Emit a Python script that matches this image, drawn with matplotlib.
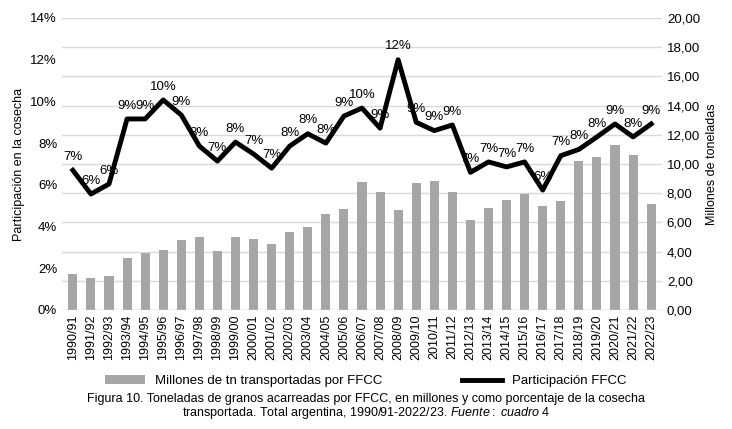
import matplotlib
matplotlib.use("Agg")
import matplotlib.pyplot as plt
from matplotlib.ticker import FuncFormatter

plt.rcParams['font.family'] = ['Liberation Sans', 'DejaVu Sans']
plt.rcParams['mathtext.fontset'] = 'custom'
plt.rcParams['mathtext.it'] = 'Liberation Sans:italic'
plt.rcParams['mathtext.rm'] = 'Liberation Sans'

years = ["1990/91","1991/92","1992/93","1993/94","1994/95","1995/96","1996/97","1997/98","1998/99","1999/00",
         "2000/01","2001/02","2002/03","2003/04","2004/05","2005/06","2006/07","2007/08","2008/09","2009/10",
         "2010/11","2011/12","2012/13","2013/14","2014/15","2015/16","2016/17","2017/18","2018/19","2019/20",
         "2020/21","2021/22","2022/23"]
tons = [2.47,2.2,2.33,3.56,3.9,4.1,4.8,5.0,4.04,5.0,4.86,4.5,5.34,5.7,6.6,6.9,8.77,8.1,6.85,8.7,
        8.84,8.1,6.16,7.0,7.53,7.95,7.1,7.47,10.2,10.5,11.3,10.6,7.26]
share = [6.7,5.56,6.04,9.16,9.16,10.07,9.35,7.86,7.14,8.05,7.48,6.8,7.86,8.45,8.0,9.3,9.68,8.72,12.0,9.0,
         8.6,8.87,6.6,7.1,6.86,7.1,5.75,7.4,7.7,8.3,8.92,8.3,8.92]
share_labels = ["7%","6%","6%","9%","9%","10%","9%","8%","7%","8%","7%","7%","8%","8%","8%","9%","10%","9%",
                "12%","9%","9%","9%","7%","7%","7%","7%","6%","7%","8%","8%","9%","8%","9%"]

fig = plt.figure(figsize=(7.32, 4.29), dpi=100)
ax = fig.add_axes([62/732, 1-310/429, 600/732, 292/429])
ax2 = ax.twinx()
x = list(range(len(years)))

ax2.bar(x, tons, width=0.5, color='#a6a6a6', label='Millones de tn transportadas por FFCC', zorder=2)
ax2.set_ylim(0, 20)
ax2.set_yticks(range(0, 21, 2))
ax2.yaxis.set_major_formatter(FuncFormatter(lambda v, p: f"{v:.2f}".replace('.', ',')))
ax2.set_ylabel('Millones de toneladas', fontsize=9)

ax.set_zorder(ax2.get_zorder()+1)
ax.patch.set_visible(False)
ax.plot(x, share, color='black', lw=3.5, label='Participación FFCC', zorder=3)
for xi, v, lab in zip(x, share, share_labels):
    ax.text(xi, v+0.35, lab, ha='center', va='bottom', fontsize=9.5)
ax.set_ylim(0, 14)
ax.set_yticks(range(0, 15, 2))
ax.yaxis.set_major_formatter(FuncFormatter(lambda v, p: f"{v:.0f}%"))
ax.set_ylabel('Participación en la cosecha', fontsize=9)
ax.set_xlim(-0.6, len(years)-0.4)
ax.set_xticks(x)
ax.set_xticklabels(years, rotation=90, fontsize=9)
for a in (ax, ax2):
    for s in a.spines.values():
        s.set_visible(False)
    a.tick_params(length=0, labelsize=9.5)
ax.tick_params(axis='x', labelsize=9, pad=3)
ax2.grid(axis='y', color='#d9d9d9', lw=1, zorder=0)
ax.axhline(0, color='#d9d9d9', lw=1)

h1, l1 = ax2.get_legend_handles_labels()
h2, l2 = ax.get_legend_handles_labels()
fig.legend(h1+h2, l1+l2, loc='center', bbox_to_anchor=(0.5, 1-381/429), ncol=2, frameon=False,
           fontsize=9.5, handlelength=3, columnspacing=6)
fig.text(0.5, 1-399/429, "Figura 10. Toneladas de granos acarreadas por FFCC, en millones y como porcentaje de la cosecha",
         ha='center', va='center', fontsize=9)
fig.text(0.5, 1-413/429, "transportada. Total argentina, 1990/91-2022/23. $\\it{Fuente:\\ cuadro\\ 4}$",
         ha='center', va='center', fontsize=9)
fig.savefig('out.png', dpi=100)
